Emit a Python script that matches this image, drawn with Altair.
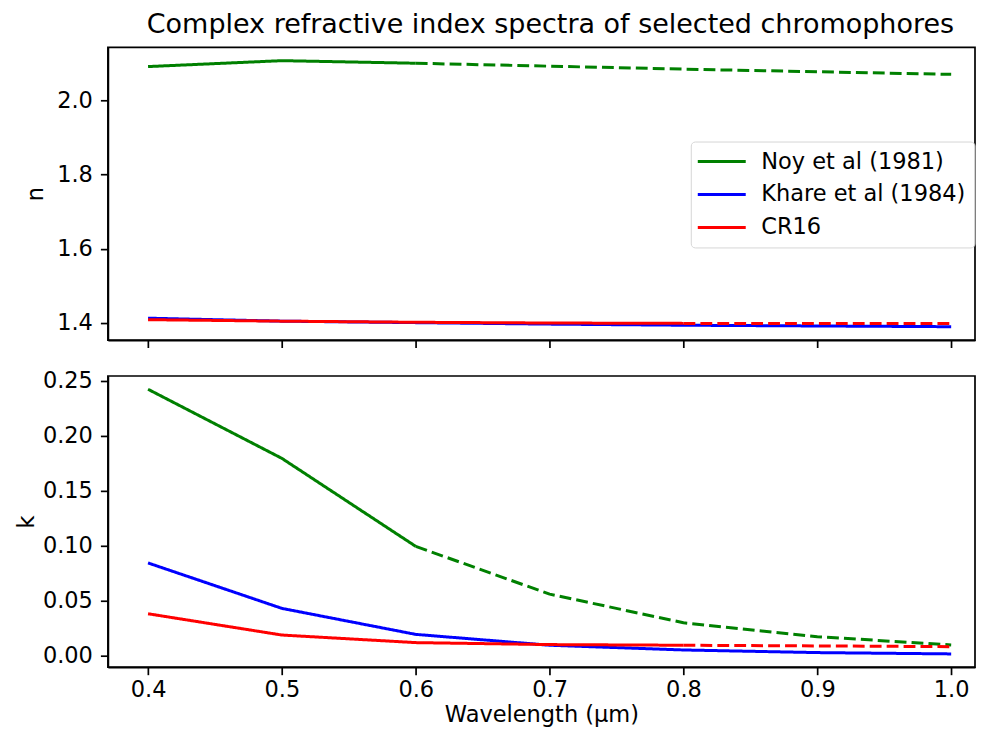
import altair as alt
import pandas as pd

# ---- data ----
wavelength = [0.4, 0.5, 0.6, 0.7, 0.8, 0.9, 1.0]
series_names = ["Noy et al (1981)", "Khare et al (1984)", "CR16"]
series_colors = ["green", "blue", "red"]
measured_until = [0.6, 1.0, 0.8]   # solid up to here, dashed (extrapolated) beyond

noy_n = [2.092, 2.108, 2.101, 2.093, 2.085, 2.078, 2.071]
khare_n = [1.412, 1.404, 1.400, 1.396, 1.393, 1.391, 1.389]
cr16_n = [1.408, 1.404, 1.401, 1.399, 1.398, 1.398, 1.398]

noy_k = [0.2424, 0.1794, 0.0992, 0.0557, 0.0296, 0.0169, 0.0094]
khare_k = [0.0841, 0.0427, 0.0190, 0.0091, 0.0048, 0.0024, 0.0012]
cr16_k = [0.0378, 0.0184, 0.0115, 0.0097, 0.0091, 0.0085, 0.0078]

x_ticks = [0.4, 0.5, 0.6, 0.7, 0.8, 0.9, 1.0]
n_ticks = [1.4, 1.6, 1.8, 2.0]
k_ticks = [0.0, 0.05, 0.10, 0.15, 0.20, 0.25]

FONT = "DejaVu Sans"
FS = 22.5


def long_df(values_by_series):
    rows = []
    for name, vals, cut in zip(series_names, values_by_series, measured_until):
        for x, v in zip(wavelength, vals):
            if x <= cut + 1e-9:
                rows.append(dict(series=name, wl=x, value=v, style="solid"))
            if x >= cut - 1e-9 and cut < max(wavelength) - 1e-9:
                rows.append(dict(series=name, wl=x, value=v, style="dashed"))
    return pd.DataFrame(rows)


df_n = long_df([noy_n, khare_n, cr16_n])
df_k = long_df([noy_k, khare_k, cr16_k])

color_scale = alt.Scale(domain=series_names, range=series_colors)
dash_scale = alt.Scale(domain=["solid", "dashed"], range=[[1, 0], [11.85, 5.1]])
x_scale = alt.Scale(domain=[0.37, 1.0178], nice=False, zero=False)
PLOT_W = 868


def panel(df, ytitle, ydomain, yticks, yfmt, bottom, legend, height, tpad, title=None):
    if bottom:
        x_axis = alt.Axis(values=x_ticks, format=".1f", title="Wavelength (μm)",
                          labelPadding=4, titlePadding=2)
    else:
        x_axis = alt.Axis(values=x_ticks, labels=False, title=None)
    layers = []
    for name in series_names:
        layers.append(
            alt.Chart(df[df.series == name])
            .mark_line(strokeWidth=3, strokeCap="butt", strokeJoin="round")
            .encode(
                x=alt.X("wl:Q", scale=x_scale, axis=x_axis),
                y=alt.Y("value:Q",
                        scale=alt.Scale(domain=ydomain, nice=False, zero=False),
                        axis=alt.Axis(values=yticks, format=yfmt, title=ytitle,
                                      labelPadding=8, titlePadding=tpad)),
                color=alt.Color("series:N", scale=color_scale, legend=legend),
                strokeDash=alt.StrokeDash("style:N", scale=dash_scale, legend=None),
                order="wl:Q",
            )
        )
    props = dict(width=PLOT_W, height=height)
    if title is not None:
        props["title"] = title
    return alt.layer(*layers).properties(**props)


legend = alt.Legend(
    orient="none", legendX=583.5, legendY=94.3, title=None,
    symbolType="M-1.3,0H3.5", symbolSize=400, symbolStrokeWidth=3,
    labelFont=FONT, labelFontSize=FS, labelColor="black", labelLimit=400,
    labelOffset=39, rowPadding=10, padding=8.5,
    strokeColor="#d6d6d6", fillColor="rgba(255,255,255,0.8)", cornerRadius=4,
)

title = alt.TitleParams(
    "Complex refractive index spectra of selected chromophores",
    font=FONT, fontSize=27, fontWeight="normal", color="black",
    anchor="middle", frame="group", offset=-13, baseline="alphabetic", dx=9,
)

top = panel(df_n, "n", [1.353, 2.144], n_ticks, ".1f", False, legend, 293, 8.7, title)
bottom = panel(df_k, "k", [-0.0109, 0.2545], k_ticks, ".2f", True, None, 291.5, 3.5)

chart = (
    alt.vconcat(top, bottom, spacing=19)
    .resolve_scale(x="independent", y="independent", color="independent")
    .properties(padding={"left": 7, "top": 2, "right": 0, "bottom": 0})
    .configure(font=FONT)
    .configure_view(stroke="black", strokeWidth=1.7)
    .configure_axis(
        labelFont=FONT, titleFont=FONT, labelFontSize=FS, titleFontSize=FS,
        titleFontWeight="normal", labelColor="black", titleColor="black",
        tickColor="black", domainColor="black", tickSize=7.5, tickWidth=1.7,
        domainWidth=1.7, grid=False,
    )
)

chart.save("out.html", embed_options={"renderer": "svg", "actions": False})
